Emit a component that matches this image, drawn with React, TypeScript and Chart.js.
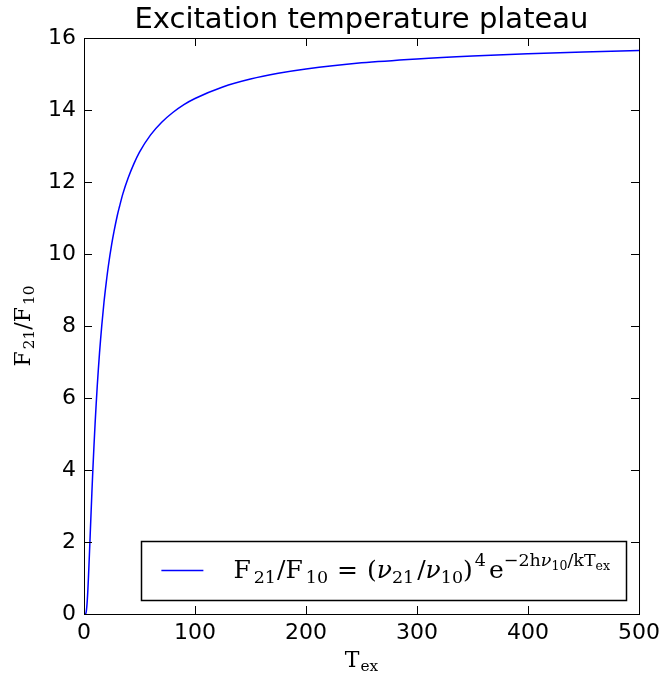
import React, { useEffect, useRef } from "react";
import { Chart, registerables } from "chart.js";

Chart.register(...registerables);

// ---- data ----
const TEMPERATURES = [
  0.5, 1, 2, 3, 4, 5, 6, 7, 8, 9, 10, 11, 12, 13, 14, 15, 16, 18, 20, 22, 25, 27,
  30, 32, 35, 40, 45, 50, 60, 70, 80, 90, 100, 125, 150, 175, 200, 250, 300, 350,
  400, 450, 500,
];
const RATIOS = [
  0, 0, 0.06, 0.4, 1.01, 1.75, 2.53, 3.29, 4.02, 4.68, 5.29, 5.85, 6.37, 6.83, 7.26,
  7.65, 8.01, 8.66, 9.2, 9.68, 10.28, 10.62, 11.07, 11.32, 11.67, 12.13, 12.51, 12.83,
  13.31, 13.66, 13.93, 14.15, 14.32, 14.64, 14.86, 15.02, 15.14, 15.31, 15.42, 15.5,
  15.56, 15.61, 15.65,
];
const X_MIN = 0;
const X_MAX = 500;
const X_STEP = 100;
const Y_MIN = 0;
const Y_MAX = 16;
const Y_STEP = 2;

const TITLE = "Excitation temperature plateau";

type Seg = { t: string; lvl: "n" | "sub" | "sup" | "supsub"; it?: boolean; gap?: number };

const X_LABEL: Seg[] = [
  { t: "T", lvl: "n" },
  { t: "ex", lvl: "sub", gap: 1 },
];
const Y_LABEL: Seg[] = [
  { t: "F", lvl: "n" },
  { t: "21", lvl: "sub", gap: 2 },
  { t: "/F", lvl: "n" },
  { t: "10", lvl: "sub", gap: 2 },
];
const LEGEND_LABEL: Seg[] = [
  { t: "F", lvl: "n" },
  { t: "21", lvl: "sub", gap: 3 },
  { t: "/F", lvl: "n", gap: 1 },
  { t: "10", lvl: "sub", gap: 3 },
  { t: "=", lvl: "n", gap: 9 },
  { t: "(", lvl: "n", gap: 9 },
  { t: "ν", lvl: "n", it: true },
  { t: "21", lvl: "sub" },
  { t: "/", lvl: "n", gap: 3 },
  { t: "ν", lvl: "n", it: true },
  { t: "10", lvl: "sub" },
  { t: ")", lvl: "n" },
  { t: "4", lvl: "sup", gap: 2 },
  { t: "e", lvl: "n", gap: 3 },
  { t: "−2h", lvl: "sup" },
  { t: "ν", lvl: "sup", it: true },
  { t: "10", lvl: "supsub" },
  { t: "/kT", lvl: "sup" },
  { t: "ex", lvl: "supsub" },
];

const SANS = "'DejaVu Sans', sans-serif";
const SERIF = "'DejaVu Serif', 'Liberation Serif', serif";
const LINE_COLOR = "#0000ff";

const LEVELS: Record<string, { size: number; dy: number }> = {
  n: { size: 1, dy: 0 },
  sub: { size: 0.7, dy: 0.2 },
  sup: { size: 0.7, dy: -0.45 },
  supsub: { size: 0.5, dy: -0.3 },
};

function segFont(seg: Seg, size: number) {
  const s = size * LEVELS[seg.lvl].size;
  return `${seg.it ? "italic " : ""}${s}px ${SERIF}`;
}

function richWidth(ctx: CanvasRenderingContext2D, segs: Seg[], size: number) {
  let w = 0;
  for (const seg of segs) {
    ctx.font = segFont(seg, size);
    w += (seg.gap || 0) + ctx.measureText(seg.t).width;
  }
  return w;
}

function drawRich(
  ctx: CanvasRenderingContext2D,
  segs: Seg[],
  x: number,
  y: number,
  size: number
) {
  ctx.textBaseline = "alphabetic";
  ctx.textAlign = "left";
  let cx = x;
  for (const seg of segs) {
    ctx.font = segFont(seg, size);
    cx += seg.gap || 0;
    ctx.fillText(seg.t, cx, y + LEVELS[seg.lvl].dy * size);
    cx += ctx.measureText(seg.t).width;
  }
}

const decorPlugin = {
  id: "decor",
  afterDatasetsDraw(chart: any) {
    const { ctx, chartArea: a, scales } = chart;
    ctx.save();
    ctx.strokeStyle = "#000";
    ctx.lineWidth = 1;
    ctx.beginPath();
    const TL = 8;
    for (const t of scales.x.ticks) {
      const px = Math.round(scales.x.getPixelForValue(t.value)) + 0.5;
      ctx.moveTo(px, a.bottom);
      ctx.lineTo(px, a.bottom - TL);
      ctx.moveTo(px, a.top);
      ctx.lineTo(px, a.top + TL);
    }
    for (const t of scales.y.ticks) {
      const py = Math.round(scales.y.getPixelForValue(t.value)) + 0.5;
      ctx.moveTo(a.left, py);
      ctx.lineTo(a.left + TL, py);
      ctx.moveTo(a.right, py);
      ctx.lineTo(a.right - TL, py);
    }
    ctx.stroke();
    ctx.strokeRect(a.left + 0.5, a.top + 0.5, a.right - a.left, a.bottom - a.top);
    ctx.restore();
  },
  afterDraw(chart: any) {
    const { ctx, chartArea: a } = chart;
    ctx.save();
    ctx.fillStyle = "#000";
    const cx = (a.left + a.right) / 2;
    // title
    ctx.font = `29px ${SANS}`;
    ctx.textAlign = "center";
    ctx.textBaseline = "alphabetic";
    ctx.fillText(TITLE, cx, a.top - 10);
    // x label
    const lblSize = 22;
    const xw = richWidth(ctx, X_LABEL, lblSize);
    drawRich(ctx, X_LABEL, cx - xw / 2, 667, lblSize);
    // y label
    const yw = richWidth(ctx, Y_LABEL, lblSize);
    ctx.save();
    ctx.translate(30, (a.top + a.bottom) / 2);
    ctx.rotate(-Math.PI / 2);
    drawRich(ctx, Y_LABEL, -yw / 2, 0, lblSize);
    ctx.restore();
    // legend
    const legSize = 25;
    const tw = richWidth(ctx, LEGEND_LABEL, legSize);
    const boxRight = a.right - 13;
    const boxBottom = a.bottom - 14;
    const boxTop = boxBottom - 59;
    const textEnd = boxRight - 16;
    const textStart = textEnd - tw;
    const lineEnd = textStart - 30;
    const lineStart = lineEnd - 42;
    const boxLeft = lineStart - 20;
    ctx.fillStyle = "#fff";
    ctx.fillRect(boxLeft, boxTop, boxRight - boxLeft, boxBottom - boxTop);
    ctx.strokeStyle = "#000";
    ctx.lineWidth = 1.5;
    ctx.strokeRect(Math.round(boxLeft) + 0.5, boxTop + 0.5, Math.round(boxRight - boxLeft), boxBottom - boxTop);
    const midY = (boxTop + boxBottom) / 2;
    ctx.strokeStyle = LINE_COLOR;
    ctx.lineWidth = 1.5;
    ctx.beginPath();
    ctx.moveTo(lineStart, midY);
    ctx.lineTo(lineEnd, midY);
    ctx.stroke();
    ctx.fillStyle = "#000";
    drawRich(ctx, LEGEND_LABEL, textStart, midY + 7, legSize);
    ctx.restore();
  },
};

export default function App() {
  const ref = useRef<HTMLCanvasElement | null>(null);

  useEffect(() => {
    document.body.style.margin = "0";
    const canvas = ref.current;
    if (!canvas) return;
    const points = TEMPERATURES.map((t, i) => ({ x: t, y: RATIOS[i] }));
    const tickFont = { family: SANS, size: 22 };
    const chart = new Chart(canvas, {
      type: "line",
      data: {
        datasets: [
          {
            label: "F21/F10",
            data: points,
            borderColor: LINE_COLOR,
            borderWidth: 1.5,
            pointRadius: 0,
            fill: false,
            cubicInterpolationMode: "monotone",
          },
        ],
      },
      options: {
        responsive: false,
        animation: false,
        devicePixelRatio: 1,
        layout: { padding: { top: 38, right: 25, left: 0, bottom: 0 } },
        plugins: {
          legend: { display: false },
          title: { display: false },
          tooltip: { enabled: false },
        },
        scales: {
          x: {
            type: "linear",
            min: X_MIN,
            max: X_MAX,
            ticks: {
              stepSize: X_STEP,
              color: "#000",
              font: tickFont,
              padding: 6,
              maxRotation: 0,
            },
            grid: { display: false, drawTicks: false, tickLength: 0 },
            border: { display: false },
            afterFit: (s: any) => {
              s.height = 68;
            },
          },
          y: {
            type: "linear",
            min: Y_MIN,
            max: Y_MAX,
            ticks: {
              stepSize: Y_STEP,
              color: "#000",
              font: tickFont,
              padding: 8,
            },
            grid: { display: false, drawTicks: false, tickLength: 0 },
            border: { display: false },
            afterFit: (s: any) => {
              s.width = 84;
            },
          },
        },
      },
      plugins: [decorPlugin],
    });
    return () => chart.destroy();
  }, []);

  return (
    <div style={{ width: 666, height: 682 }}>
      <canvas ref={ref} width={666} height={682} style={{ display: "block" }} />
    </div>
  );
}
